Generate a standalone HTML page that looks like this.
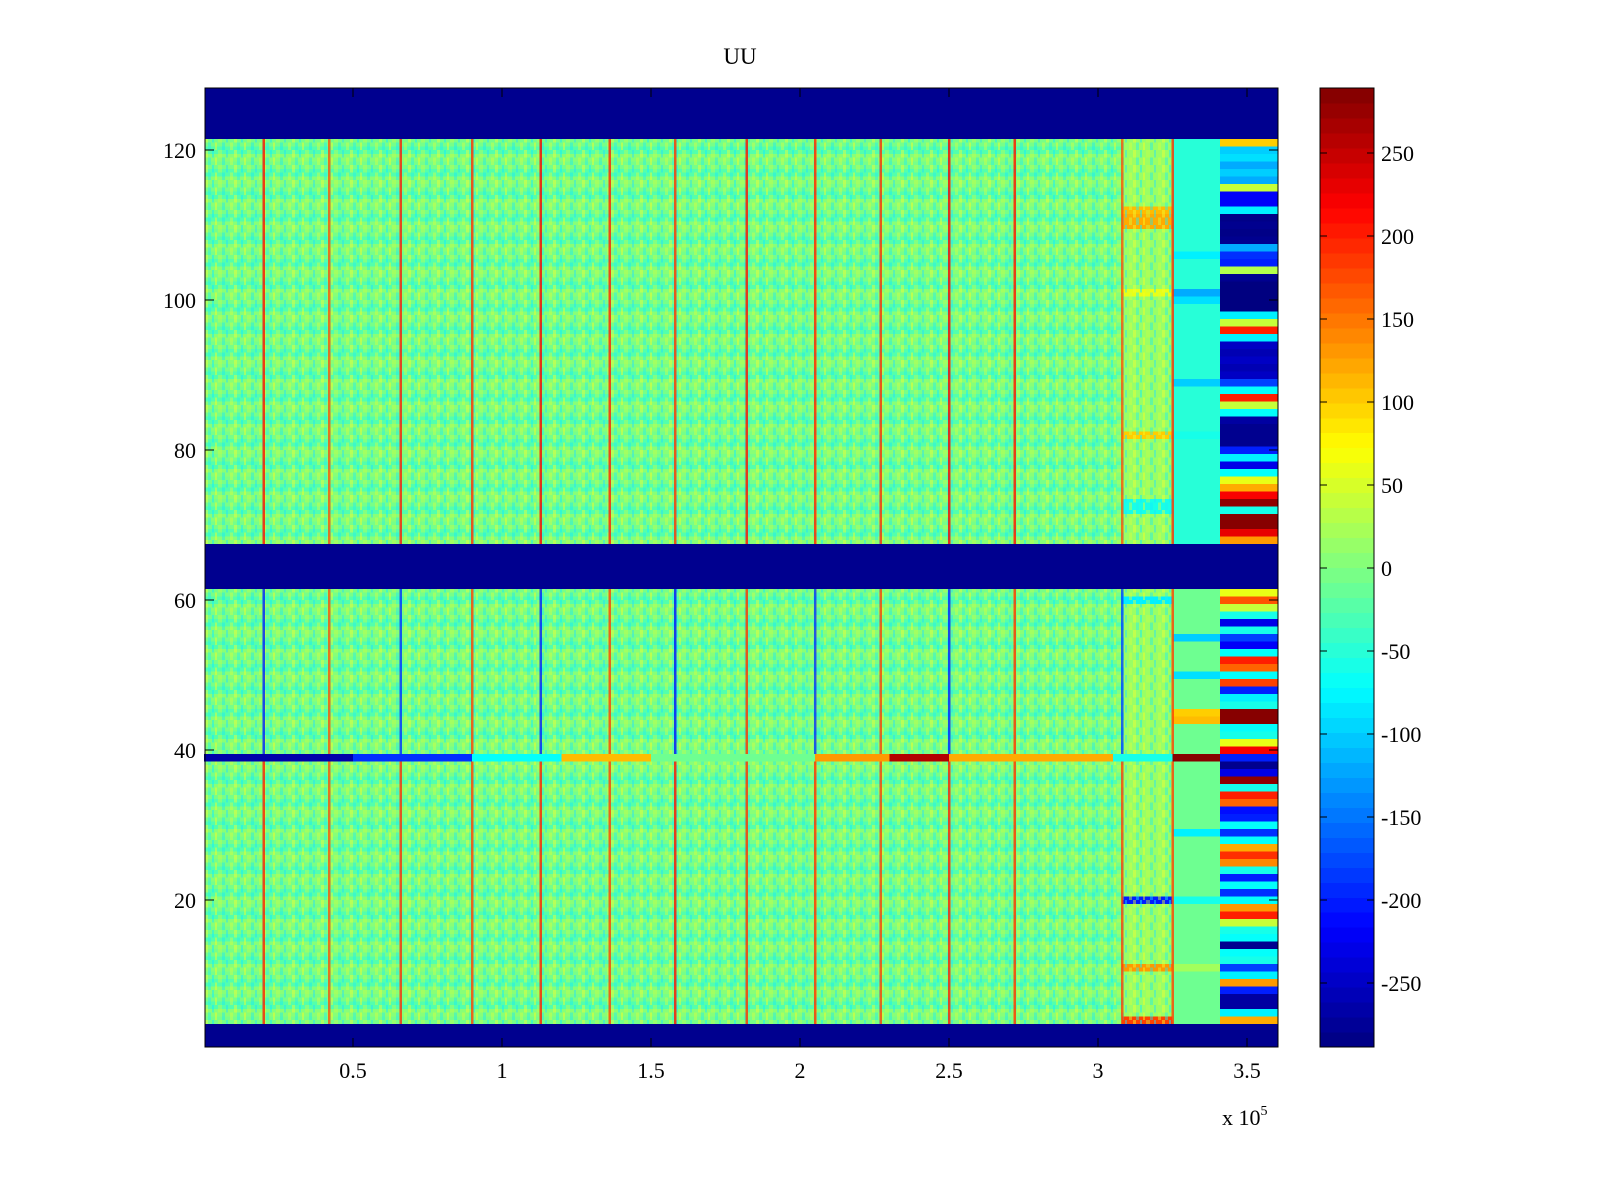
<!DOCTYPE html>
<html><head><meta charset="utf-8"><style>
html,body{margin:0;padding:0;background:#fff;}
svg{display:block;}
text{font-family:"Liberation Serif",serif;fill:#000;}
#cells rect,#stripes rect,#cbar rect{shape-rendering:crispEdges;}
</style></head><body>
<svg id="chart" width="1600" height="1200" viewBox="0 0 1600 1200" xmlns="http://www.w3.org/2000/svg">
<defs>
<pattern id="tex" x="205" y="0" width="29" height="15" patternUnits="userSpaceOnUse">
<rect x="0" y="0" width="3" height="7.5" fill="#f0ff30" opacity="0.45"/>
<rect x="7" y="0" width="2" height="7.5" fill="#10f0ff" opacity="0.5"/>
<rect x="13" y="0" width="4" height="7.5" fill="#c8ff40" opacity="0.4"/>
<rect x="21" y="0" width="2" height="7.5" fill="#20e0ff" opacity="0.45"/>
<rect x="3" y="7.5" width="3" height="7.5" fill="#20f0f0" opacity="0.45"/>
<rect x="10" y="7.5" width="2" height="7.5" fill="#f8ff20" opacity="0.45"/>
<rect x="17" y="7.5" width="3" height="7.5" fill="#10e8ff" opacity="0.4"/>
<rect x="25" y="7.5" width="3" height="7.5" fill="#d0ff40" opacity="0.45"/>
</pattern>
</defs>
<rect x="205" y="88" width="1073" height="959" fill="#00008f"/>
<g id="cells"></g>
<g id="stripes"></g>
<rect x="205" y="88" width="1073" height="959" fill="none" stroke="#000" stroke-width="1"/>
<g id="axes"></g>
<g id="cbar"></g>
<text x="740" y="64" font-size="23" text-anchor="middle">UU</text>
<text x="1222" y="1125" font-size="22">x 10<tspan font-size="14" dy="-10">5</tspan></text>
</svg>
<script>
const xTicks=[0.5,1,1.5,2,2.5,3,3.5];
const yTicks=[20,40,60,80,100,120];
const cTicks=[250,200,150,100,50,0,-50,-100,-150,-200,-250];
const stripeX=[0.2,0.42,0.66,0.9,1.13,1.36,1.58,1.82,2.05,2.27,2.5,2.72,3.08,3.25];
const stripeTop=[210,170,200,190,220,200,190,210,200,190,220,210,170,190];
const stripeBot=[-200,170,-190,180,-200,180,-210,190,-190,180,-200,190,-180,180];
const blueRows=[1,2,3,62,63,64,65,66,67,122,123,124,125,126,127,128];
// right block (3.41e5-3.6e5), rows 4..121
const rightVals=[120,-80,-270,-270,-200,130,-80,-180,-60,-70,-280,-70,-60,40,200,130,-70,-190,-70,-200,-60,140,190,120,-70,-190,-70,-200,-210,160,200,-60,280,-230,-280,-200,220,60,-60,-70,285,285,-60,-80,-200,180,-70,160,200,-70,-220,-180,-60,-230,-60,40,170,60,
-289,-289,-289,-289,-289,-289,
130,230,285,285,-60,280,220,120,60,-70,-230,-80,-200,-280,-280,-280,-270,-70,40,200,-70,-180,-250,-260,-250,-260,-250,-80,200,40,-80,-289,-289,-289,-289,-280,30,-200,-190,-120,-280,-285,-280,-285,-80,-220,-220,40,-120,-100,-120,-90,-100,100];
const b1Rows=[4,11,20,39,60,72,73,82,101,110,111,112];
const b1Vals=[180,130,-200,-120,-80,-60,-60,100,60,120,120,110];
const b2Rows=[11,20,29,39,44,45,50,55,82,89,100,101,106];
const b2Vals=[20,-60,-80,285,110,100,-90,-100,-60,-100,-90,-120,-80];
const row39Xs=[0,0.5,0.9,1.2,1.5,2.05,2.3,2.5,3.05,3.25];
const row39Vals=[-265,-190,-70,110,-10,130,260,120,-60,20];

const NS="http://www.w3.org/2000/svg";
const X0=205,X1=1278,Y0=88,Y1=1047;
const xs=v=>204+v*298;
const ys=v=>1050-v*7.5;
const cmin=-289,cmax=289;
function jet(v){let t=(v-cmin)/(cmax-cmin);t=Math.max(0,Math.min(1,t));
 const c=x=>Math.round(255*Math.max(0,Math.min(1,x)));
 return `rgb(${c(1.5-Math.abs(4*t-3))},${c(1.5-Math.abs(4*t-2))},${c(1.5-Math.abs(4*t-1))})`;}
function mk(tag,attrs,parent){const e=document.createElementNS(NS,tag);for(const k in attrs)e.setAttribute(k,attrs[k]);parent.appendChild(e);return e;}
const cells=document.getElementById('cells');
for(let r=1;r<=128;r++){
 if(blueRows.includes(r))continue;
 const yt=Math.max(Y0,ys(r+0.5)),yb=Math.min(Y1,ys(r-0.5));
 if(yb<=yt)continue;
 const base=(r%3===0)?-25:(r%3===1?-5:5);
 let e=mk('rect',{x:X0,y:yt,width:xs(3.08)-X0,height:yb-yt,fill:jet(base)},cells);
 
 
 e=mk('rect',{x:X0,y:yt,width:xs(3.08)-X0,height:yb-yt,fill:'url(#tex)'},cells);
 
 
 const i1=b1Rows.indexOf(r);
 e=mk('rect',{x:xs(3.08),y:yt,width:xs(3.25)-xs(3.08),height:yb-yt,fill:jet(i1>=0?b1Vals[i1]:15)},cells);
 
 
 e=mk('rect',{x:xs(3.08),y:yt,width:xs(3.25)-xs(3.08),height:yb-yt,fill:'url(#tex)'},cells);
 
 
 const i2=b2Rows.indexOf(r);
 e=mk('rect',{x:xs(3.25),y:yt,width:xs(3.41)-xs(3.25),height:yb-yt,fill:jet(i2>=0?b2Vals[i2]:(r>67?-50:-10))},cells);
 
 
 e=mk('rect',{x:xs(3.41),y:yt,width:X1-xs(3.41),height:yb-yt,fill:jet(rightVals[r-4])},cells);
 
 
}
for(let i=0;i<row39Xs.length;i++){
 const xa=xs(row39Xs[i]),xb=xs(i+1<row39Xs.length?row39Xs[i+1]:3.08);
 const e=mk('rect',{x:xa,y:ys(39.5),width:xb-xa,height:7.5,fill:jet(row39Vals[i])},cells);
 
 
}
const sg=document.getElementById('stripes');
stripeX.forEach((sx,i)=>{
 let e=mk('rect',{x:xs(sx)-1,y:ys(121.5),width:2.5,height:ys(67.5)-ys(121.5),fill:jet(stripeTop[i]),opacity:0.8},sg);
 
 
 e=mk('rect',{x:xs(sx)-1,y:ys(61.5),width:2.5,height:ys(39.5)-ys(61.5),fill:jet(stripeBot[i]),opacity:0.8},sg);
 
 
 e=mk('rect',{x:xs(sx)-1,y:ys(38.5),width:2.5,height:ys(3.5)-ys(38.5),fill:jet(Math.abs(stripeBot[i])),opacity:0.8},sg);
 
 
});
const ax=document.getElementById('axes');
xTicks.forEach(v=>{const x=xs(v);
 let e=mk('line',{x1:x,y1:Y1,x2:x,y2:Y1-9,stroke:'#000'},ax);
 
 e=mk('line',{x1:x,y1:Y0,x2:x,y2:Y0+9,stroke:'#000'},ax);
 
 e=mk('text',{x:x,y:1078,'font-size':22,'text-anchor':'middle'},ax);e.textContent=v;
 });
yTicks.forEach(v=>{const y=ys(v);
 let e=mk('line',{x1:X0,y1:y,x2:X0+9,y2:y,stroke:'#000'},ax);
 
 e=mk('line',{x1:X1,y1:y,x2:X1-9,y2:y,stroke:'#000'},ax);
 
 e=mk('text',{x:196,y:y+8,'font-size':22,'text-anchor':'end'},ax);e.textContent=v;
 });
const cb=document.getElementById('cbar');
const CX0=1320,CX1=1374,CY0=88,CY1=1047,N=64;
const cy=v=>568-v*83/50;
for(let i=0;i<N;i++){const v=cmin+(i+0.5)*(cmax-cmin)/N;
 const ya=CY1-(i+1)*(CY1-CY0)/N;
 const e=mk('rect',{x:CX0,y:ya,width:CX1-CX0,height:(CY1-CY0)/N+0.6,fill:jet(v)},cb);
 }
let fr=mk('rect',{x:CX0,y:CY0,width:CX1-CX0,height:CY1-CY0,fill:'none',stroke:'#000'},cb);

cTicks.forEach(v=>{const y=cy(v);
 let e=mk('line',{x1:CX1,y1:y,x2:CX1-7,y2:y,stroke:'#000'},cb);
 
 e=mk('line',{x1:CX0,y1:y,x2:CX0+7,y2:y,stroke:'#000'},cb);
 
 e=mk('text',{x:1381,y:y+8,'font-size':22},cb);e.textContent=v;
 });
</script>
</body></html>
